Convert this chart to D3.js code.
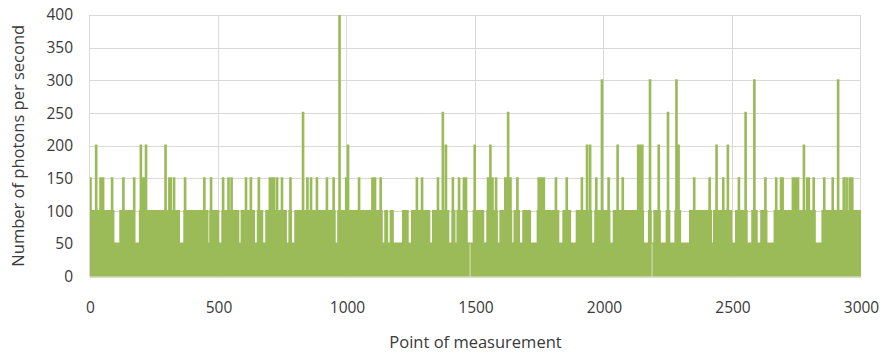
<!DOCTYPE html>
<html>
<head>
<meta charset="utf-8">
<script src="https://cdn.jsdelivr.net/npm/d3@7"></script>
<style>
  body { margin: 0; background: #fff; }
  text { font-family: "Open Sans", sans-serif; fill: #3a3a3a; }
</style>
</head>
<body>
<div id="chart"></div>
<script>
// point index runs 0..3000, most points sit on the 100 level
var xMax = 3000;
var baseLevel = 100;
var dipLevel = 50;

// [from, to, value] stretches above the base level
var peaks = [
  [0, 2, 150], [24, 24, 200], [41, 41, 150], [51, 51, 150], [86, 86, 150],
  [130, 130, 150], [172, 172, 150], [198, 198, 200], [204, 212, 150], [218, 218, 200],
  [294, 294, 200], [309, 314, 150], [327, 327, 150], [370, 370, 150], [445, 445, 150],
  [471, 471, 150], [518, 518, 150], [539, 539, 150], [551, 551, 150], [607, 607, 150],
  [626, 626, 150], [657, 657, 150], [700, 700, 150], [708, 708, 150], [716, 716, 150],
  [728, 728, 150], [747, 747, 150], [780, 780, 150], [829, 829, 250], [846, 846, 150],
  [860, 860, 150], [883, 883, 150], [922, 922, 150], [948, 948, 150], [971, 971, 400],
  [997, 997, 150], [1004, 1004, 200], [1047, 1047, 150], [1099, 1109, 150], [1131, 1131, 150],
  [1272, 1272, 150], [1292, 1292, 150], [1354, 1354, 150], [1373, 1373, 250], [1385, 1385, 200],
  [1412, 1412, 150], [1436, 1436, 150], [1455, 1455, 150], [1463, 1463, 150], [1497, 1497, 200],
  [1549, 1566, 150], [1558, 1558, 200], [1580, 1580, 150], [1616, 1636, 150], [1627, 1627, 250],
  [1663, 1663, 150], [1746, 1766, 150], [1813, 1813, 150], [1855, 1855, 150], [1914, 1914, 150],
  [1934, 1934, 200], [1946, 1946, 200], [1970, 1970, 150], [1992, 1992, 300], [2018, 2018, 150],
  [2053, 2053, 200], [2073, 2073, 150], [2133, 2149, 200], [2179, 2179, 300], [2213, 2213, 200],
  [2249, 2249, 250], [2282, 2282, 300], [2290, 2290, 200], [2351, 2351, 150], [2411, 2411, 150],
  [2438, 2438, 200], [2464, 2464, 150], [2482, 2482, 200], [2525, 2525, 150], [2551, 2551, 250],
  [2585, 2585, 300], [2628, 2628, 150], [2670, 2670, 150], [2689, 2695, 150], [2735, 2755, 150],
  [2778, 2778, 200], [2791, 2797, 150], [2816, 2816, 150], [2857, 2857, 150], [2890, 2890, 150],
  [2911, 2911, 300], [2933, 2933, 150], [2944, 2944, 150], [2956, 2956, 150], [2966, 2966, 150]
];

// [from, to] stretches that stay on the 50 level
var dips = [
  [91, 118], [171, 194], [346, 367], [457, 468], [499, 515], [577, 590], [638, 653],
  [670, 686], [762, 776], [782, 799], [952, 966], [1135, 1149], [1156, 1170], [1178, 1218],
  [1236, 1253], [1320, 1335], [1394, 1410], [1418, 1430], [1466, 1493], [1530, 1546],
  [1583, 1597], [1639, 1652], [1669, 1686], [1712, 1742], [1822, 1842], [1868, 1894],
  [1950, 1966], [2021, 2038], [2152, 2175], [2182, 2196], [2217, 2244], [2254, 2278],
  [2296, 2335], [2416, 2428], [2495, 2514], [2555, 2577], [2594, 2612], [2632, 2664],
  [2820, 2850]
];

// points where the count never drops to zero
var zeroGaps = [1479, 2187];

var yTicks = [0, 50, 100, 150, 200, 250, 300, 350, 400];
var xTicks = [0, 500, 1000, 1500, 2000, 2500, 3000];

var margin = { top: 15, right: 32, bottom: 80.5, left: 90 },
  width = 893 - margin.left - margin.right,
  height = 357 - margin.top - margin.bottom;

var series = d3.range(0, xMax + 1).map(function(i) { return { x: i, y: baseLevel }; });
dips.forEach(function(d) {
  for (var i = d[0]; i <= d[1]; i++) series[i].y = dipLevel;
});
peaks.forEach(function(d) {
  for (var i = d[0]; i <= d[1]; i++) series[i].y = Math.max(series[i].y === dipLevel ? 0 : series[i].y, d[2]);
});

var svg = d3.select("#chart")
  .append("svg")
  .attr("width", 893)
  .attr("height", 357)
  .append("g")
  .attr("transform", "translate(" + margin.left + "," + margin.top + ")");

var x = d3.scaleLinear().domain([0, xMax]).range([0, width]);
var y = d3.scaleLinear().domain([0, 400]).range([height, 0]);

// grid
svg.append("g")
  .selectAll("line")
  .data(yTicks)
  .join("line")
  .attr("x1", 0).attr("x2", width)
  .attr("y1", function(d) { return Math.round(y(d)) + 0.5; })
  .attr("y2", function(d) { return Math.round(y(d)) + 0.5; })
  .attr("stroke", "#d9d9d9");

svg.append("g")
  .selectAll("line")
  .data(xTicks)
  .join("line")
  .attr("x1", function(d) { return Math.round(x(d)) - 0.5; })
  .attr("x2", function(d) { return Math.round(x(d)) - 0.5; })
  .attr("y1", 0).attr("y2", height)
  .attr("stroke", "#d9d9d9");

svg.append("clipPath")
  .attr("id", "plot-clip")
  .append("rect")
  .attr("x", 0).attr("y", 0)
  .attr("width", width).attr("height", height);

var green = "#9bbb59";

var area = d3.area()
  .curve(d3.curveStep)
  .x(function(d) { return x(d.x); })
  .y0(y(0))
  .y1(function(d) { return y(d.y); });

svg.append("path")
  .datum(series)
  .attr("clip-path", "url(#plot-clip)")
  .attr("d", area)
  .attr("fill", green)
  .attr("stroke", green)
  .attr("stroke-width", 2.4)
  .attr("stroke-linejoin", "miter");

svg.append("g")
  .selectAll("line")
  .data(zeroGaps)
  .join("line")
  .attr("x1", function(d) { return x(d); })
  .attr("x2", function(d) { return x(d); })
  .attr("y1", y(0))
  .attr("y2", y(dipLevel))
  .attr("stroke", "#fff")
  .attr("stroke-opacity", 0.6)
  .attr("stroke-width", 1);

// axes (labels only)
var yAxis = d3.axisLeft(y).tickValues(yTicks).tickSize(0).tickPadding(17);
var xAxis = d3.axisBottom(x).tickValues(xTicks).tickFormat(d3.format("d")).tickSize(0).tickPadding(25);

svg.append("g").call(yAxis)
  .call(function(g) { g.select(".domain").remove(); })
  .selectAll("text")
  .style("font-family", "'Open Sans', sans-serif")
  .style("font-size", "15.5px")
  .attr("fill", "#3a3a3a");

svg.append("g")
  .attr("transform", "translate(0," + height + ")")
  .call(xAxis)
  .call(function(g) { g.select(".domain").remove(); })
  .selectAll("text")
  .style("font-family", "'Open Sans', sans-serif")
  .style("font-size", "15.5px")
  .attr("fill", "#3a3a3a");

svg.append("text")
  .attr("x", width / 2)
  .attr("y", height + 71)
  .attr("text-anchor", "middle")
  .style("font-size", "16.5px")
  .text("Point of measurement");

svg.append("text")
  .attr("transform", "translate(-66," + height / 2 + ") rotate(-90)")
  .attr("text-anchor", "middle")
  .style("font-size", "16.5px")
  .text("Number of photons per second");
</script>
</body>
</html>
